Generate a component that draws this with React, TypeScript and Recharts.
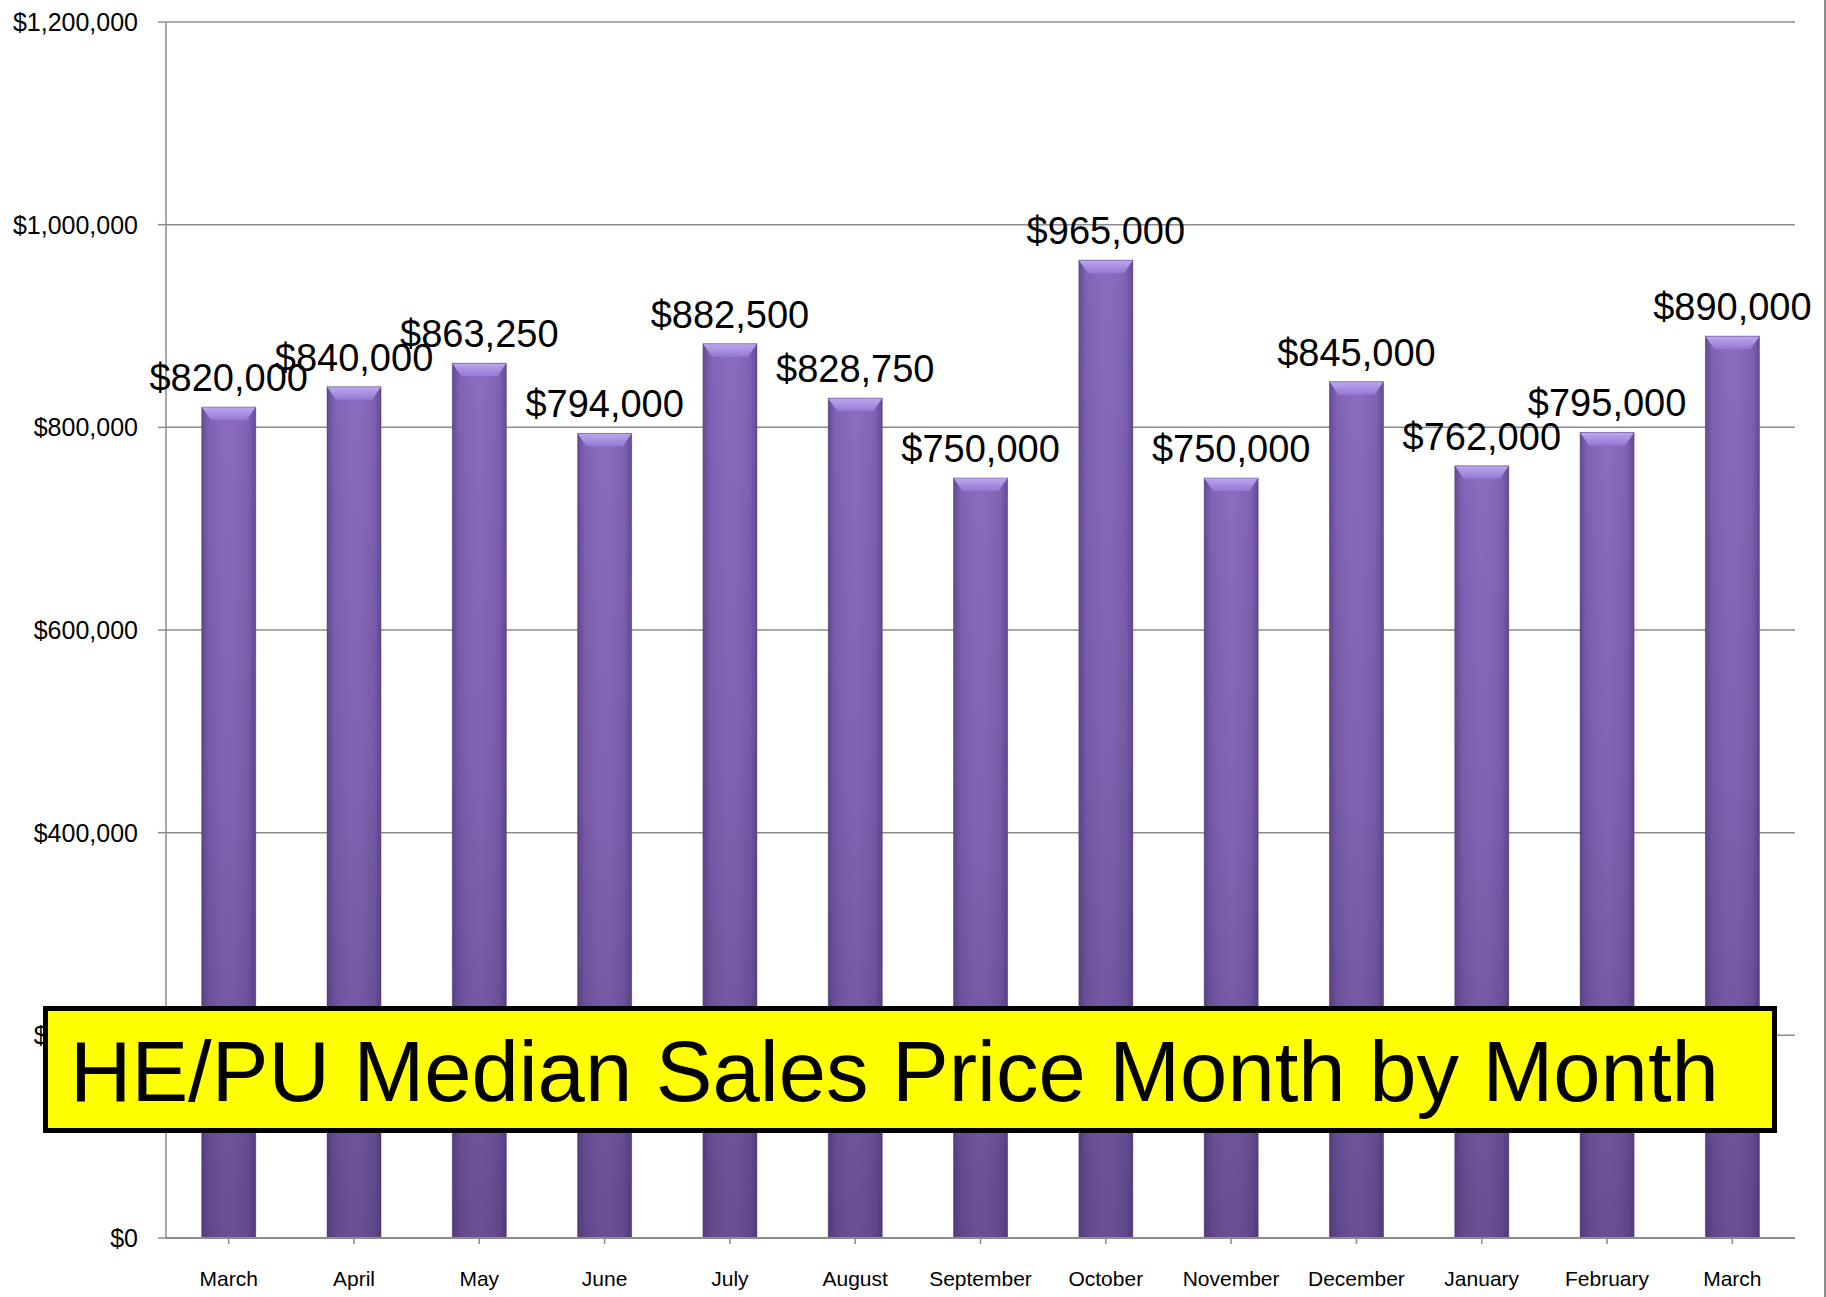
import { Bar, BarChart, CartesianGrid, LabelList, XAxis, YAxis } from "recharts";

const months = [
  "March",
  "April",
  "May",
  "June",
  "July",
  "August",
  "September",
  "October",
  "November",
  "December",
  "January",
  "February",
  "March",
];

const medianPrices = [
  820000, 840000, 863250, 794000, 882500, 828750, 750000, 965000, 750000, 845000, 762000,
  795000, 890000,
];

const yTicks = [0, 200000, 400000, 600000, 800000, 1000000, 1200000];

const chartTitle = "HE/PU Median Sales Price Month by Month";

const data = months.map((m, i) => ({ key: `${m}-${i}`, month: m, price: medianPrices[i] }));

const FONT = "'Liberation Sans', Arial, sans-serif";
const GRID = "#8c8c8c";

const money = (v: number) => `$${Number(v).toLocaleString("en-US")}`;

// bevelled purple column, like the old office 3d style
function PurpleBar(props: any) {
  const { x, y, width, height } = props;
  if (!height || height <= 0) return null;
  const bevel = Math.min(13, height);
  const inset = 9;
  return (
    <g>
      <rect x={x} y={y} width={width} height={height} fill="url(#barFill)" />
      <rect x={x} y={y} width={width} height={height} fill="url(#barEdge)" />
      <polygon
        points={`${x},${y} ${x + width},${y} ${x + width - inset},${y + bevel} ${x + inset},${y + bevel}`}
        fill="url(#barTop)"
      />
      <rect
        x={x}
        y={y}
        width={width}
        height={height}
        fill="none"
        stroke="#4a3870"
        strokeOpacity={0.45}
        strokeWidth={1}
      />
    </g>
  );
}

export default function App() {
  return (
    <div
      style={{
        position: "absolute",
        left: 0,
        top: 0,
        width: 1826,
        height: 1297,
        background: "#ffffff",
        fontFamily: FONT,
        overflow: "hidden",
      }}
    >
      <BarChart
        width={1826}
        height={1297}
        data={data}
        margin={{ top: 22, right: 31, bottom: 0, left: 0 }}
        barCategoryGap="28.5%"
      >
        <defs>
          <linearGradient id="barFill" x1="0" y1="0" x2="0" y2="1">
            <stop offset="0%" stopColor="#8466bb" />
            <stop offset="45%" stopColor="#7a5dae" />
            <stop offset="100%" stopColor="#62488e" />
          </linearGradient>
          <linearGradient id="barEdge" x1="0" y1="0" x2="1" y2="0">
            <stop offset="0%" stopColor="#3c2a60" stopOpacity={0.45} />
            <stop offset="12%" stopColor="#3c2a60" stopOpacity={0.1} />
            <stop offset="50%" stopColor="#ffffff" stopOpacity={0.04} />
            <stop offset="88%" stopColor="#3c2a60" stopOpacity={0.1} />
            <stop offset="100%" stopColor="#3c2a60" stopOpacity={0.45} />
          </linearGradient>
          <linearGradient id="barTop" x1="0" y1="0" x2="0" y2="1">
            <stop offset="0%" stopColor="#bda8f0" />
            <stop offset="100%" stopColor="#9378d2" />
          </linearGradient>
        </defs>
        <CartesianGrid vertical={false} stroke={GRID} strokeWidth={1.5} />
        <XAxis
          dataKey="key"
          tickFormatter={(v: string) => v.split("-")[0]}
          height={59}
          interval={0}
          tickSize={6}
          tickMargin={27}
          axisLine={{ stroke: GRID, strokeWidth: 2 }}
          tickLine={{ stroke: GRID, strokeWidth: 1.5 }}
          tick={{ fill: "#000000", fontSize: 21, fontFamily: FONT }}
        />
        <YAxis
          width={166}
          domain={[0, 1200000]}
          ticks={yTicks}
          interval={0}
          tickFormatter={money}
          tickSize={8}
          tickMargin={20}
          axisLine={{ stroke: GRID, strokeWidth: 1.5 }}
          tickLine={{ stroke: GRID, strokeWidth: 1.5 }}
          tick={{ fill: "#000000", fontSize: 25, fontFamily: FONT }}
        />
        <Bar dataKey="price" shape={<PurpleBar />} isAnimationActive={false}>
          <LabelList
            dataKey="price"
            position="top"
            offset={16}
            formatter={(v: any) => money(v)}
            style={{ fontSize: 38, fontFamily: FONT, fill: "#000000" }}
          />
        </Bar>
      </BarChart>

      <div
        style={{
          position: "absolute",
          right: 0,
          top: 0,
          width: 2,
          height: 1297,
          background: "#8c8c8c",
        }}
      />

      <div
        style={{
          position: "absolute",
          left: 43,
          top: 1006,
          width: 1734,
          height: 127,
          boxSizing: "border-box",
          border: "5px solid #000000",
          background: "#ffff00",
        }}
      />
      <div
        style={{
          position: "absolute",
          left: 70,
          top: 1029,
          fontSize: 85,
          lineHeight: "85px",
          fontFamily: FONT,
          color: "#000000",
          whiteSpace: "nowrap",
        }}
      >
        {chartTitle}
      </div>
    </div>
  );
}
